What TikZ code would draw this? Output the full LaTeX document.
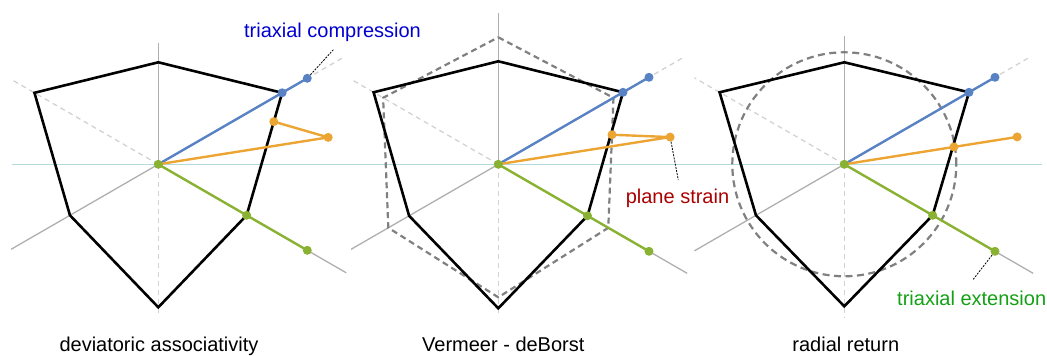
\documentclass[tikz,border=0pt]{standalone}
\usepackage{fontspec}
\setmainfont{Liberation Sans}
\usetikzlibrary{calc}
\definecolor{cblue}{RGB}{88,130,195}
\definecolor{corange}{RGB}{236,165,50}
\definecolor{cgreen}{RGB}{138,178,50}
\definecolor{tblue}{RGB}{0,0,210}
\definecolor{tred}{RGB}{170,0,0}
\definecolor{tgreen}{RGB}{20,160,20}
\definecolor{hlinecol}{RGB}{178,218,222}
\definecolor{axsolid}{RGB}{175,175,175}
\definecolor{axdash}{RGB}{210,210,210}
\definecolor{guide}{RGB}{128,128,128}
\tikzset{
  axsol/.style={draw=axsolid, line width=1.3pt},
  axdsh/.style={draw=axdash, line width=1.3pt, dash pattern=on 5pt off 4pt},
  yieldsurf/.style={draw=black, line width=2.6pt, line join=miter},
  guidesurf/.style={draw=guide, line width=2.2pt, dash pattern=on 6pt off 4pt},
  pblue/.style={draw=cblue, line width=2.4pt},
  porange/.style={draw=corange, line width=2.4pt, line join=round},
  pgreen/.style={draw=cgreen, line width=2.4pt},
  dot/.style={circle, inner sep=0pt, minimum size=9pt, fill=#1},
  note/.style={draw=black, line width=0.8pt, dash pattern=on 2pt off 1.2pt},
  lbl/.style={font=\fontsize{20}{24}\selectfont, anchor=base, inner sep=0pt}
}
\begin{document}
\begin{tikzpicture}[x=1pt,y=1pt]
\useasboundingbox (0,0) rectangle (1047,356);
% horizontal reference line
\coordinate (hl1) at (11.7,191.7);
\coordinate (hl2) at (1041.7,191.7);
\draw[draw=hlinecol, line width=1pt] (hl1) -- (hl2);

% ---------------- panel 1 ----------------
\begin{scope}[shift={(158.3,191.7)}]
  \coordinate (p1c) at (0,0);
  \coordinate (p1a90) at (90:121);
  \coordinate (p1a210) at (210:170);
  \coordinate (p1a330) at (330:217);
  \coordinate (p1a270) at (270:152);
  \coordinate (p1a30) at (30:215);
  \coordinate (p1a150) at (150:170);
  \draw[axsol] (p1c) -- (p1a90);
  \draw[axsol] (p1c) -- (p1a210);
  \draw[axsol] (p1c) -- (p1a330);
  \draw[axdsh] (p1c) -- (p1a270);
  \draw[axdsh] (p1c) -- (p1a30);
  \draw[axdsh] (p1c) -- (p1a150);
  \coordinate (p1v90) at (90:102);
  \coordinate (p1v30) at (30:143);
  \coordinate (p1v330) at (330:102);
  \coordinate (p1v270) at (270:143);
  \coordinate (p1v210) at (210:102);
  \coordinate (p1v150) at (150:143);
  \draw[yieldsurf] (p1v90) -- (p1v30) -- (p1v330) -- (p1v270) -- (p1v210) -- (p1v150) -- cycle;
  \coordinate (p1tb) at (30:172);
  \coordinate (p1to) at (9:172);
  \coordinate (p1tg) at (330:172);
  \coordinate (p1ro) at ($(p1v30)!(p1to)!(p1v330)$);
  \draw[pblue] (p1c) -- (p1tb);
  \draw[porange] (p1c) -- (p1to) -- (p1ro);
  \draw[pgreen] (p1c) -- (p1tg);
  \node[dot=cblue] (p1dbv) at (p1v30) {};
  \node[dot=cblue] (p1dbt) at (p1tb) {};
  \node[dot=corange] (p1dot) at (p1to) {};
  \node[dot=corange] (p1dor) at (p1ro) {};
  \node[dot=cgreen] (p1dgv) at (p1v330) {};
  \node[dot=cgreen] (p1dgt) at (p1tg) {};
  \node[dot=cgreen] (p1dc) at (p1c) {};
\end{scope}

% ---------------- panel 2 ----------------
\begin{scope}[shift={(498.3,191.7)}]
  \coordinate (p2c) at (0,0);
  \coordinate (p2a90) at (90:151);
  \coordinate (p2a210) at (210:170);
  \coordinate (p2a330) at (330:218);
  \coordinate (p2a270) at (270:152);
  \coordinate (p2a30) at (30:215);
  \coordinate (p2a150) at (150:170);
  \draw[axsol] (p2c) -- (p2a90);
  \draw[axsol] (p2c) -- (p2a210);
  \draw[axsol] (p2c) -- (p2a330);
  \draw[axdsh] (p2c) -- (p2a270);
  \draw[axdsh] (p2c) -- (p2a30);
  \draw[axdsh] (p2c) -- (p2a150);
  \coordinate (p2h90) at (90:127);
  \coordinate (p2h30) at (30:133);
  \coordinate (p2h330) at (330:127);
  \coordinate (p2h270) at (270:133);
  \coordinate (p2h210) at (210:127);
  \coordinate (p2h150) at (150:133);
  \draw[guidesurf] (p2h90) -- (p2h30) -- (p2h330) -- (p2h270) -- (p2h210) -- (p2h150) -- cycle;
  \coordinate (p2v90) at (90:103);
  \coordinate (p2v30) at (30:144);
  \coordinate (p2v330) at (330:103);
  \coordinate (p2v270) at (270:144);
  \coordinate (p2v210) at (210:103);
  \coordinate (p2v150) at (150:144);
  \draw[yieldsurf] (p2v90) -- (p2v30) -- (p2v330) -- (p2v270) -- (p2v210) -- (p2v150) -- cycle;
  \coordinate (p2tb) at (30:174);
  \coordinate (p2to) at (9:174);
  \coordinate (p2tg) at (330:174);
  \coordinate (p2ro) at ($(p2h30)!(p2to)!(p2h330)$);
  \draw[pblue] (p2c) -- (p2tb);
  \draw[porange] (p2c) -- (p2to) -- (p2ro);
  \draw[pgreen] (p2c) -- (p2tg);
  \node[dot=cblue] (p2dbv) at (p2v30) {};
  \node[dot=cblue] (p2dbt) at (p2tb) {};
  \node[dot=corange] (p2dot) at (p2to) {};
  \node[dot=corange] (p2dor) at (p2ro) {};
  \node[dot=cgreen] (p2dgv) at (p2v330) {};
  \node[dot=cgreen] (p2dgt) at (p2tg) {};
  \node[dot=cgreen] (p2dc) at (p2c) {};
\end{scope}

% ---------------- panel 3 ----------------
\begin{scope}[shift={(844.3,191.7)}]
  \coordinate (p3c) at (0,0);
  \coordinate (p3a90) at (90:128);
  \coordinate (p3a210) at (210:173);
  \coordinate (p3a330) at (330:218);
  \coordinate (p3a270) at (270:154);
  \coordinate (p3a30) at (30:216);
  \coordinate (p3a150) at (150:173);
  \draw[axsol] (p3c) -- (p3a90);
  \draw[axsol] (p3c) -- (p3a210);
  \draw[axsol] (p3c) -- (p3a330);
  \draw[axdsh] (p3c) -- (p3a270);
  \draw[axdsh] (p3c) -- (p3a30);
  \draw[axdsh] (p3c) -- (p3a150);
  \draw[guidesurf, dash pattern=on 7pt off 4.5pt] (p3c) circle[radius=112];
  \coordinate (p3v90) at (90:102);
  \coordinate (p3v30) at (30:144);
  \coordinate (p3v330) at (330:102);
  \coordinate (p3v270) at (270:142);
  \coordinate (p3v210) at (210:102);
  \coordinate (p3v150) at (150:144);
  \draw[yieldsurf] (p3v90) -- (p3v30) -- (p3v330) -- (p3v270) -- (p3v210) -- (p3v150) -- cycle;
  \coordinate (p3tb) at (30:174);
  \coordinate (p3to) at (9:175);
  \coordinate (p3tg) at (330:174);
  \coordinate (p3ro) at (9:111);
  \draw[pblue] (p3c) -- (p3tb);
  \draw[porange] (p3c) -- (p3to);
  \draw[pgreen] (p3c) -- (p3tg);
  \node[dot=cblue] (p3dbv) at (p3v30) {};
  \node[dot=cblue] (p3dbt) at (p3tb) {};
  \node[dot=corange] (p3dot) at (p3to) {};
  \node[dot=corange] (p3dor) at (p3ro) {};
  \node[dot=cgreen] (p3dgv) at (p3v330) {};
  \node[dot=cgreen] (p3dgt) at (p3tg) {};
  \node[dot=cgreen] (p3dc) at (p3c) {};
\end{scope}

% annotations
\coordinate (n1) at (334,307);
\draw[note] (p1dbt) -- (n1);
\node[lbl, text=tblue] (l1) at (332.5,318) {triaxial compression};
\coordinate (n2) at (678.3,176);
\draw[note] (p2dot) -- (n2);
\node[lbl, text=tred] (l2) at (677.5,152) {plane strain};
\coordinate (n3) at (972.7,76);
\draw[note] (p3dgt) -- (n3);
\node[lbl, text=tgreen] (l3) at (971.7,50) {triaxial extension};

% captions
\node[lbl] (cap1) at (159,4) {deviatoric associativity};
\node[lbl] (cap2) at (503.3,4) {Vermeer - deBorst};
\node[lbl] (cap3) at (845.8,4) {radial return};
\end{tikzpicture}
\end{document}
